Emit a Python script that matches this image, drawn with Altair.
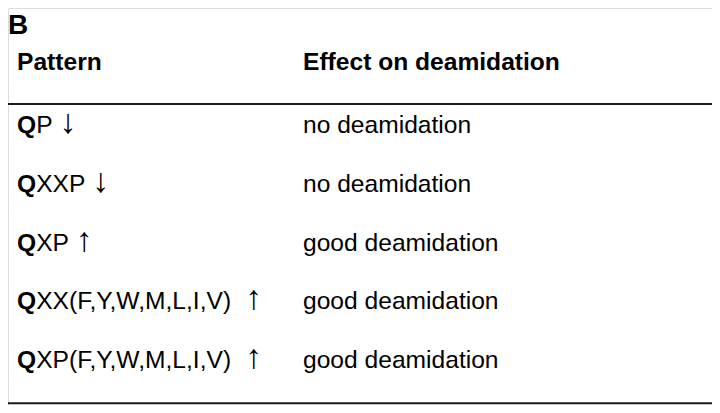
import altair as alt
import pandas as pd

panel_label = "B"
headers = ["Pattern", "Effect on deamidation"]
patterns = ["QP", "QXXP", "QXP", "QXX(F,Y,W,M,L,I,V)", "QXP(F,Y,W,M,L,I,V)"]
trends = ["↓", "↓", "↑", "↑", "↑"]
effects = ["no deamidation", "no deamidation", "good deamidation",
           "good deamidation", "good deamidation"]

FONT = "Liberation Sans"
FS = 24.6

# Arial / Liberation Sans advance widths (em) used to place the arrow after the text
ADV = {"X": .667, "P": .667, "(": .333, ")": .333, "F": .611, "Y": .667, "W": .944,
       "M": .833, "L": .556, "I": .278, "V": .667, ",": .278, " ": .278}
Q_BOLD = .778 * FS

n = len(patterns)
rows = pd.DataFrame({
    "row": list(range(1, n + 1)),
    "col0": [0] * n,
    "col1": [1] * n,
    "lead": [p[0] for p in patterns],
    "rest": [p[1:] for p in patterns],
    "trend": trends,
    "effect": effects,
})
rows["adx"] = [Q_BOLD + (sum(ADV[c] for c in p[1:]) + ADV[" "]) * FS for p in patterns]

head = pd.DataFrame({"row": [0, 0], "col": [0, 1], "text": headers})
# separators: below the header row and below the last row (in row units)
seps = pd.DataFrame({"pos": [0.5, n + 0.6]})

xs = alt.Scale(domain=[0, 1], range=[9, 295])
ys = alt.Scale(domain=[0, 6], range=[66.6, 418.8])

base_text = dict(font=FONT, fontSize=FS, align="left", baseline="alphabetic", color="black")

X0 = alt.X("col0:Q", scale=xs, axis=None)
YR = alt.Y("row:Q", scale=ys, axis=None)

lead = alt.Chart(rows).mark_text(fontWeight="bold", **base_text).encode(
    x=X0, y=YR, text="lead:N")
rest = alt.Chart(rows).mark_text(dx=Q_BOLD, **base_text).encode(
    x=X0, y=YR, text="rest:N")
arrows = alt.Chart(rows).transform_calculate(
    xa="datum.col0"
).mark_text(font=FONT, fontSize=34, align="left", baseline="alphabetic", color="black").encode(
    x=alt.X("col0:Q", scale=xs, axis=None), y=YR, text="trend:N",
)
eff = alt.Chart(rows).mark_text(**base_text).encode(
    x=alt.X("col1:Q", scale=xs, axis=None), y=YR, text="effect:N")
hdr = alt.Chart(head).mark_text(fontWeight="bold", dy=-4.6, **base_text).encode(
    x=alt.X("col:Q", scale=xs, axis=None), y=YR, text="text:N")
label = alt.Chart(pd.DataFrame({"t": [panel_label]})).mark_text(
    font=FONT, fontSize=28, fontWeight="bold", align="left", baseline="alphabetic", color="black"
).encode(x=alt.value(0), y=alt.value(26), text="t:N")

rules = alt.Chart(seps).mark_rule(color="#1a1a1a", strokeWidth=2).encode(
    x=alt.value(0), x2=alt.value(704),
    y=alt.Y("pos:Q", scale=ys, axis=None),
)

# arrows need a per-row horizontal offset: build one layer per row
arrow_layers = [
    alt.Chart(rows[rows.row == r]).mark_text(
        font=FONT, fontSize=34, align="left", baseline="alphabetic", color="black", dx=float(a)
    ).encode(x=X0, y=YR, text="trend:N")
    for r, a in zip(rows.row, rows.adx)
]

chart = alt.layer(rules, hdr, lead, rest, *arrow_layers, eff, label).properties(
    width=704, height=397,
    autosize=alt.AutoSizeParams(type="none"),
    padding=0,
).configure_view(stroke=None).configure(background="white")

chart.save("out.html", embed_options={"renderer": "svg", "actions": False})
